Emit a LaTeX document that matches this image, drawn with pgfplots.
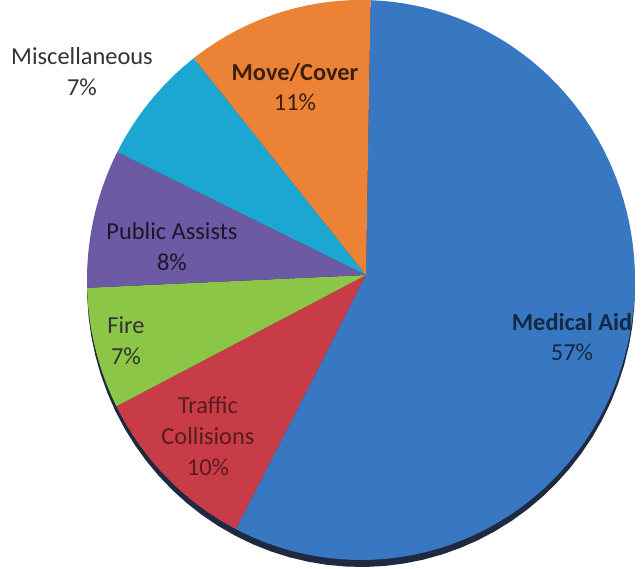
\documentclass[border=0pt]{standalone}
\usepackage{pgfplots}
\pgfplotsset{compat=1.18}
\usepackage{fontspec}
\setmainfont{Carlito}

% slice shares (percent), clockwise from the top
\def\pMed{57}
\def\pTraf{10}
\def\pFire{7}
\def\pPub{8}
\def\pMisc{7}
\def\pMove{11}

\definecolor{cMed}{HTML}{3878C2}
\definecolor{cTraf}{HTML}{C83C48}
\definecolor{cFire}{HTML}{8CC646}
\definecolor{cPub}{HTML}{6C5AA4}
\definecolor{cMisc}{HTML}{1CA6D2}
\definecolor{cMove}{HTML}{EC8236}
\definecolor{cShadow}{HTML}{1E2A40}

\pgfmathsetmacro{\aA}{88}
\pgfmathsetmacro{\aB}{\aA-3.6*\pMed}
\pgfmathsetmacro{\aC}{\aB-3.6*\pTraf}
\pgfmathsetmacro{\aD}{\aC-3.6*\pFire}
\pgfmathsetmacro{\aE}{\aD-3.6*\pPub}
\pgfmathsetmacro{\aF}{\aE-3.6*\pMisc}
\pgfmathsetmacro{\aG}{\aF-3.6*\pMove}

\tikzset{lbl/.style={align=center, font=\fontsize{24.5}{31}\selectfont}}

\begin{document}
\begin{tikzpicture}
\path[use as bounding box] (0,0) rectangle (644bp,569bp);
\begin{axis}[
  at={(0,0)}, anchor=south west,
  width=644bp, height=569bp, scale only axis,
  xmin=0, xmax=644, ymin=0, ymax=569,
  hide axis, clip=false,
  every axis plot/.append style={draw=none, variable=\t, samples=90},
]
% rim shadow
\addplot[fill=cShadow, domain=0:360] ({361+274*cos(t)},{282+280*sin(t)}) -- cycle;
% slices
\addplot[fill=cMed,  domain=\aB:\aA] ({361+274*cos(t)},{289+280*sin(t)}) -- (axis cs:366,294) -- cycle;
\addplot[fill=cTraf, domain=\aC:\aB] ({361+274*cos(t)},{289+280*sin(t)}) -- (axis cs:366,294) -- cycle;
\addplot[fill=cFire, domain=\aD:\aC] ({361+274*cos(t)},{289+280*sin(t)}) -- (axis cs:366,294) -- cycle;
\addplot[fill=cPub,  domain=\aE:\aD] ({361+274*cos(t)},{289+280*sin(t)}) -- (axis cs:366,294) -- cycle;
\addplot[fill=cMisc, domain=\aF:\aE] ({361+274*cos(t)},{289+280*sin(t)}) -- (axis cs:366,294) -- cycle;
\addplot[fill=cMove, domain=\aG:\aF] ({361+274*cos(t)},{289+280*sin(t)}) -- (axis cs:366,294) -- cycle;

\node[lbl, text=black!80] at (axis cs:82,497) {Miscellaneous\\\pMisc\%};
\node[lbl, text=black!75!cMove] at (axis cs:295,482) {\textbf{Move/Cover}\\\pMove\%};
\node[lbl, text=black!75!cPub] at (axis cs:172,322) {Public Assists\\\pPub\%};
\node[lbl, text=black!80] at (axis cs:126,228) {Fire\\\pFire\%};
\node[lbl, text=black!55!cTraf] at (axis cs:208,133) {Traffic\\Collisions\\\pTraf\%};
\node[lbl, text=black!65!cMed] at (axis cs:572,232) {\textbf{Medical Aid}\\\pMed\%};
\end{axis}
\end{tikzpicture}
\end{document}
